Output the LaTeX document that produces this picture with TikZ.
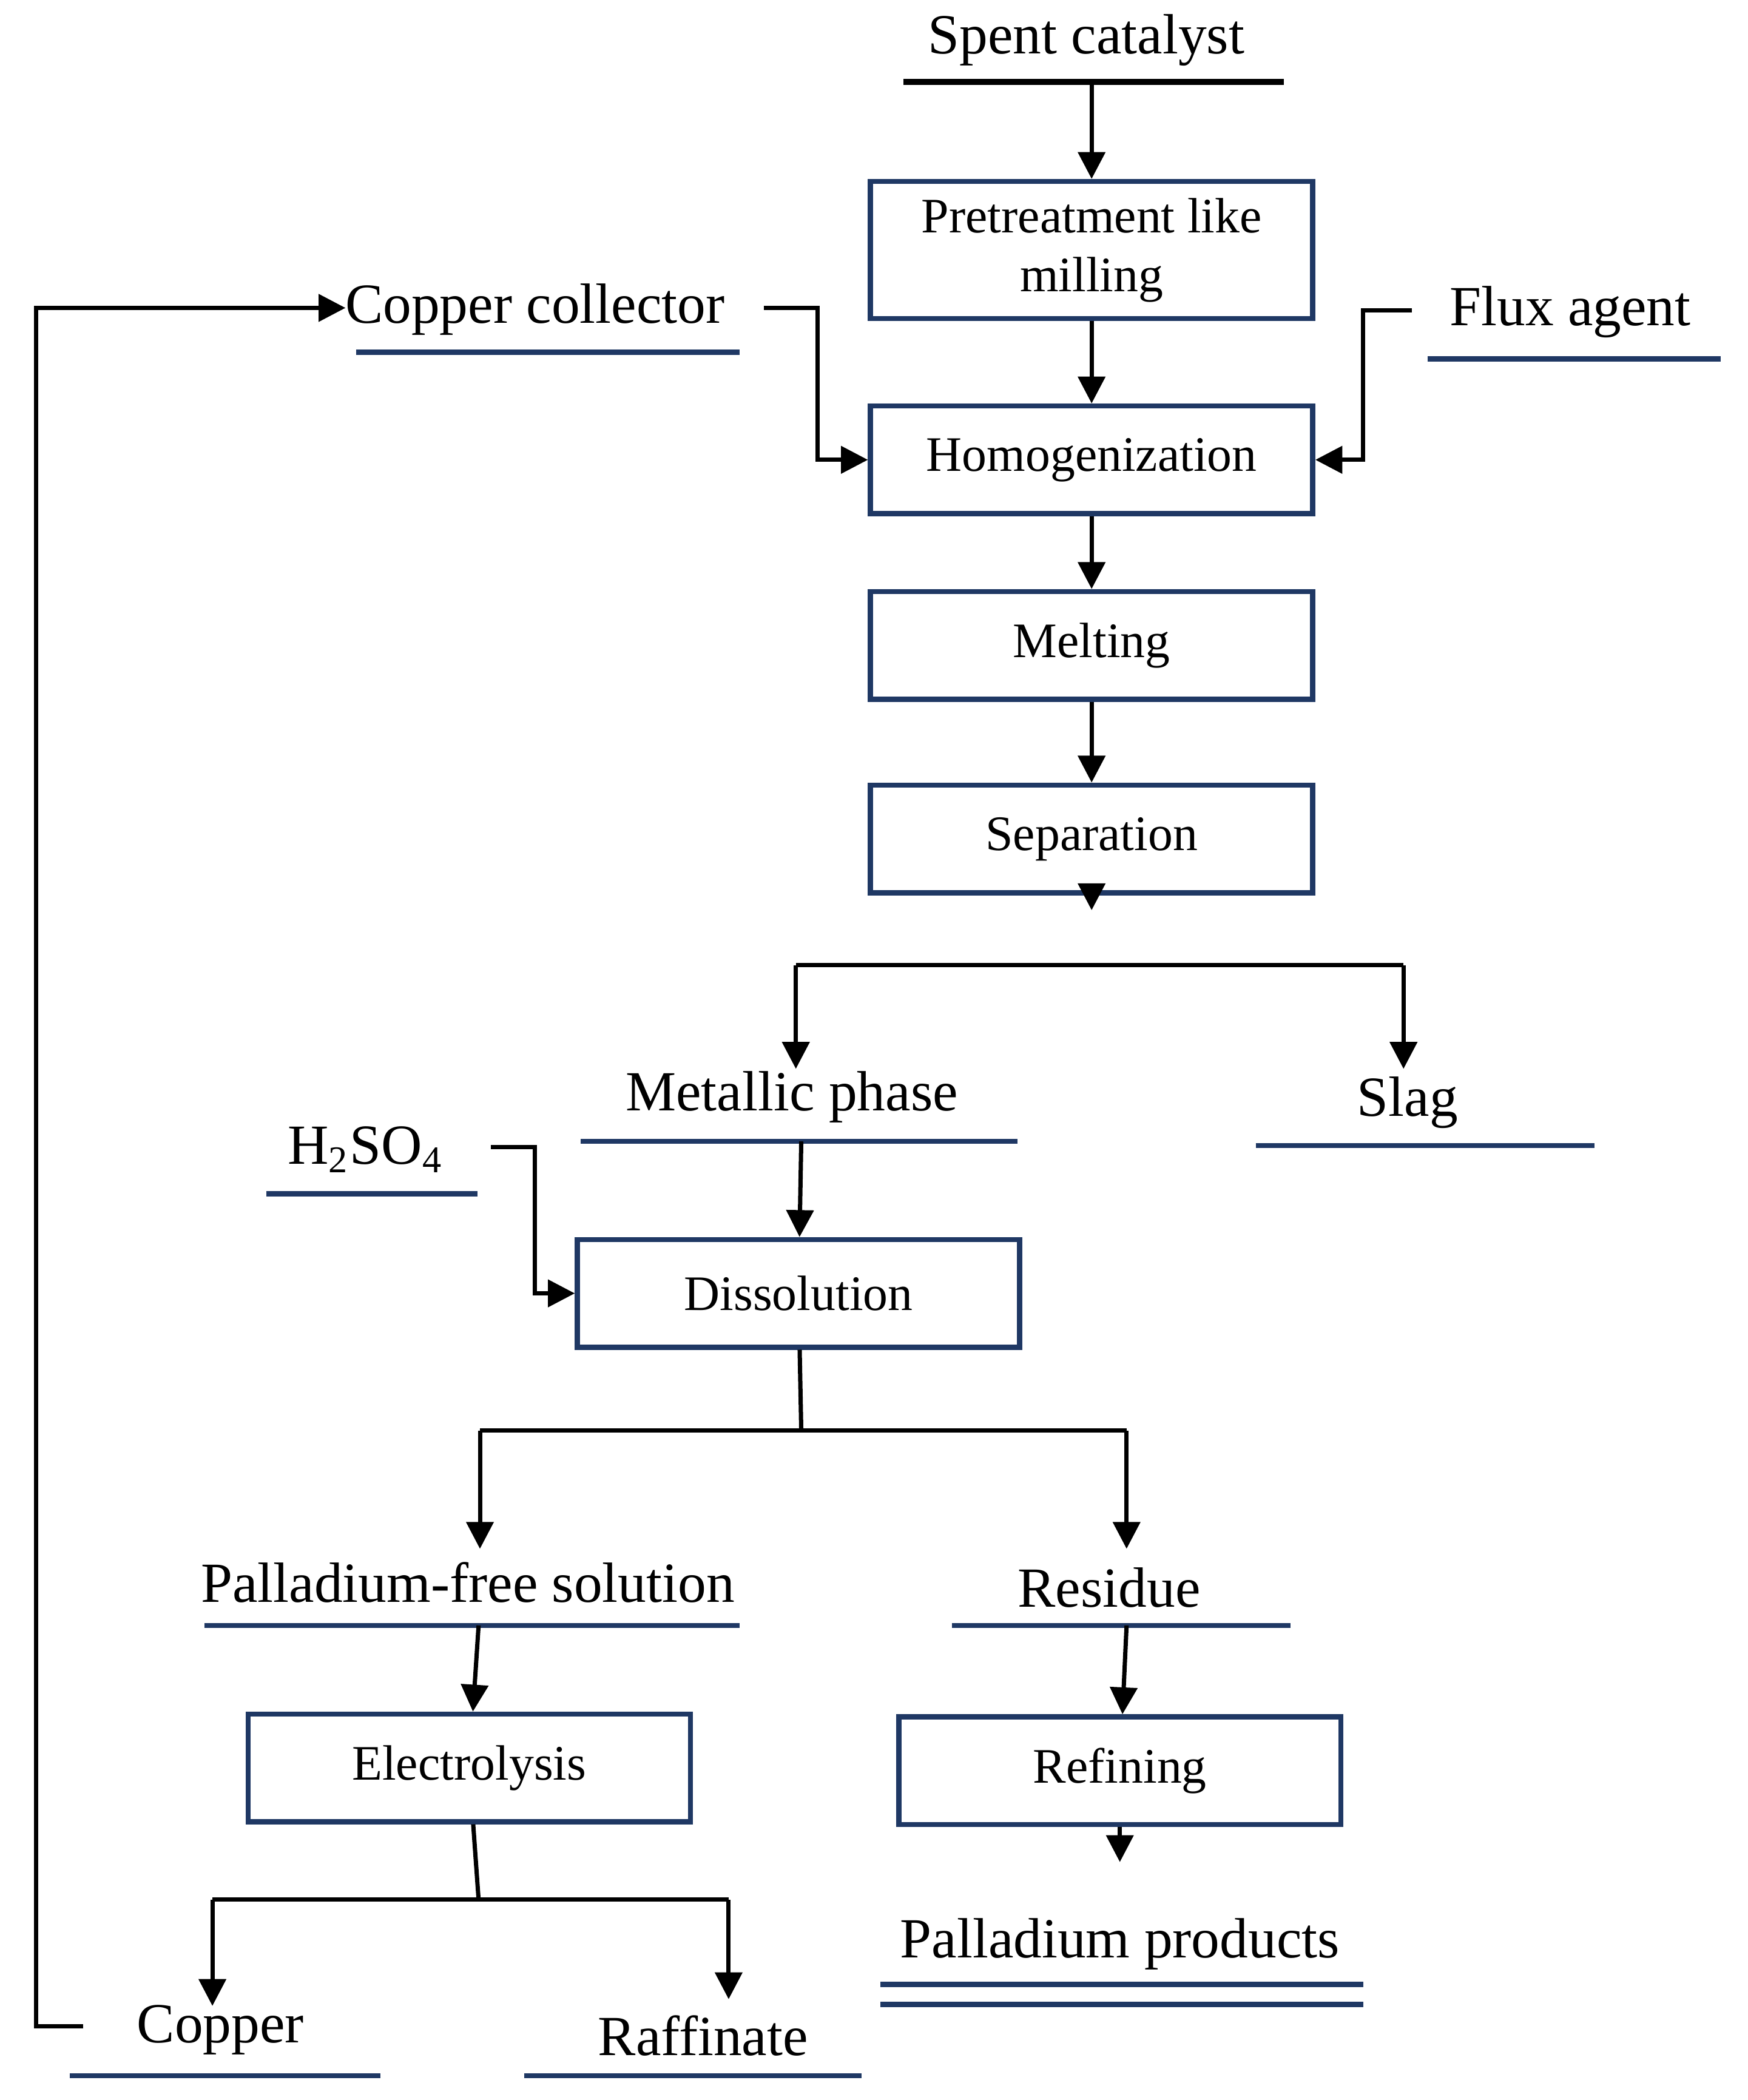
\documentclass[tikz,border=0pt]{standalone}
\usepackage{fontspec}
\setmainfont{Liberation Serif}
\usetikzlibrary{arrows.meta,positioning}
\definecolor{boxblue}{HTML}{1F3864}
\tikzset{
    procbox/.style={draw=boxblue, line width=1.1pt, minimum width=32.9mm, minimum height=8mm, align=center, font=\fontsize{10.5}{12.5}\selectfont},
    stream/.style={font=\fontsize{12}{14}\selectfont, inner sep=0},
    uline/.style={draw=boxblue, line width=1.1pt},
    flow/.style={-{Triangle[length=2mm,width=2mm]}, line width=0.9pt},
}
\begin{document}
\begin{tikzpicture}[x=0.1mm, y=-0.1mm]
    \useasboundingbox (0,0) rectangle (1300,1562);

    %% Main column

    % Process steps
    \node[procbox, minimum height=10.2mm] (pre) at (812,186) {Pretreatment like\\milling};
    \node[procbox] (homo) at (812,342) {Homogenization};
    \node[procbox] (melt) at (812,480) {Melting};
    \node[procbox] (sep) at (812,624) {Separation};
    \node[procbox] (diss) at (594,962) {Dissolution};
    \node[procbox] (elec) at (349,1315) {Electrolysis};
    \node[procbox] (ref) at (833,1317) {Refining};

    % Streams
    \node[stream] (spent) at (808,30) {Spent catalyst};
    \draw[line width=1.3pt] (672,61) -- (955,61);
    \node[stream] (coll) at (398,230) {Copper collector};
    \draw[uline] (265,262) -- (550,262);
    \node[stream] (flux) at (1168,232) {Flux agent};
    \draw[uline] (1062,267) -- (1280,267);
    \node[stream] (metal) at (589,816) {Metallic phase};
    \draw[uline] (432,849) -- (757,849);
    \node[stream] (slag) at (1047,820) {Slag};
    \draw[uline] (934,852) -- (1186,852);
    \node[stream] (acid) at (272,855) {H\textsubscript{2}SO\textsubscript{4}};
    \draw[uline] (198,888) -- (355,888);
    \node[stream] (sol) at (348,1177) {Palladium-free solution};
    \draw[uline] (152,1209) -- (550,1209);
    \node[stream] (res) at (825,1181) {Residue};
    \draw[uline] (708,1209) -- (960,1209);
    \node[stream] (prod) at (833,1446) {Palladium products};
    \draw[uline] (655,1476) -- (1014,1476);
    \draw[uline] (655,1491) -- (1014,1491);
    \node[stream] (cu) at (164,1510) {Copper};
    \draw[uline] (52,1544) -- (283,1544);
    \node[stream] (raff) at (523,1514) {Raffinate};
    \draw[uline] (390,1544) -- (641,1544);

    %% Connectors
    \coordinate (spentout) at (812,61);
    \coordinate (metalout) at (596,849);
    \coordinate (solout) at (356,1209);
    \coordinate (resout) at (838,1209);
    \coordinate (disssplit) at (596,1064);
    \coordinate (elecsplit) at (356,1413);

    \draw[flow] (spentout) -- (pre);
    \draw[flow] (pre) -- (homo);
    \draw[flow] (homo) -- (melt);
    \draw[flow] (melt) -- (sep);
    \draw[flow] (568,229) -| (608,342) -- (homo.west);
    \draw[flow] (1050,231) -| (1014,342) -- (homo.east);

    % Separation split
    \draw[flow] (sep) -- ++(0,53);
    \draw[line width=0.9pt] (592,718) -- (1044,718);
    \draw[flow] (592,718) -- (592,795);
    \draw[flow] (1044,718) -- (1044,795);

    % Dissolution
    \draw[flow] (metalout) -- (diss);
    \draw[flow] (365,853) -| (398,962) -- (diss.west);
    \draw[line width=0.9pt] (diss) -- (disssplit);
    \draw[line width=0.9pt] (357,1064) -- (838,1064);
    \draw[flow] (357,1064) -- (357,1152);
    \draw[flow] (838,1064) -- (838,1152);

    % Electrolysis and refining
    \draw[flow] (solout) -- (elec);
    \draw[flow] (resout) -- (ref);
    \draw[line width=0.9pt] (elec) -- (elecsplit);
    \draw[line width=0.9pt] (158,1413) -- (542,1413);
    \draw[flow] (158,1413) -- (158,1492);
    \draw[flow] (542,1413) -- (542,1487);
    \draw[flow] (ref) -- ++(0,68);

    % Copper recycle
    \draw[flow] (62,1507) -- (27,1507) -- (27,229) -- (257,229);

\end{tikzpicture}
\end{document}
